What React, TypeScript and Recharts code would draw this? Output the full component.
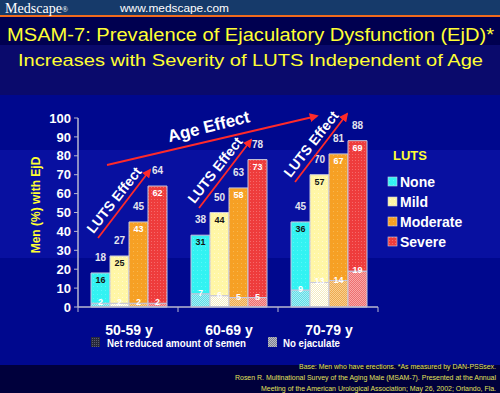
import React from 'react';
import { BarChart, Bar, XAxis, YAxis, LabelList, Legend } from 'recharts';

const ageGroups = ['50-59 y', '60-69 y', '70-79 y'];
const lutsLevels = ['None', 'Mild', 'Moderate', 'Severe'];
const lutsKeys = ['none', 'mild', 'moderate', 'severe'];

const totalNone = [18, 38, 45];
const totalMild = [27, 50, 70];
const totalModerate = [45, 63, 81];
const totalSevere = [64, 78, 88];

const reducedNone = [16, 31, 36];
const reducedMild = [25, 44, 57];
const reducedModerate = [43, 58, 67];
const reducedSevere = [62, 73, 69];

const noEjacNone = [2, 7, 9];
const noEjacMild = [2, 6, 13];
const noEjacModerate = [2, 5, 14];
const noEjacSevere = [2, 5, 19];

const yTicks = [0, 10, 20, 30, 40, 50, 60, 70, 80, 90, 100];

const FONT = '"Liberation Sans", Arial, Helvetica, sans-serif';

const totals = [totalNone, totalMild, totalModerate, totalSevere];
const reduced = [reducedNone, reducedMild, reducedModerate, reducedSevere];
const noEjac = [noEjacNone, noEjacMild, noEjacModerate, noEjacSevere];

const data = ageGroups.map((age, i) => {
  const row: Record<string, any> = { age };
  lutsKeys.forEach((k, j) => {
    row[k + 'Bot'] = noEjac[j][i];
    row[k + 'Top'] = reduced[j][i];
    row[k + 'Total'] = totals[j][i];
  });
  return row;
});

const innerColor: Record<string, string> = {
  none: '#141414',
  mild: '#141414',
  moderate: '#ffffff',
  severe: '#ffffff',
};

function geom(props: any) {
  const vb = props.viewBox || {};
  const x = Number(props.x ?? vb.x);
  const y = Number(props.y ?? vb.y);
  const width = Number(props.width ?? vb.width);
  const height = Number(props.height ?? vb.height);
  return { x, y, width, height };
}

const renderTotal = (props: any) => {
  const { x, y, width } = geom(props);
  return (
    <text x={x + width / 2} y={y - 12} textAnchor="middle" fill="#e4e4ee" fontSize={10} fontWeight="bold" fontFamily={FONT}>
      {props.value}
    </text>
  );
};

const makeInner = (k: string) => (props: any) => {
  const { x, y, width } = geom(props);
  return (
    <text x={x + width / 2} y={y + 10} textAnchor="middle" fill={innerColor[k]} fontSize={9} fontWeight="bold" fontFamily={FONT}>
      {props.value}
    </text>
  );
};

const renderBot = (props: any) => {
  const { x, y, width } = geom(props);
  return (
    <text x={x + width / 2} y={y + 2} textAnchor="middle" fill="#ffffff" fontSize={9} fontWeight="bold" fontFamily={FONT}>
      {props.value}
    </text>
  );
};

const XTick = (props: any) => {
  const { x, y, payload } = props;
  const off = payload && typeof payload.offset === 'number' && payload.offset > 0 ? payload.offset : 50;
  const last = payload && payload.index === ageGroups.length - 1;
  return (
    <g>
      <line x1={x - off} y1={y} x2={x - off} y2={y + 5} stroke="#b8b8d0" strokeWidth={1} />
      {last ? <line x1={x + off} y1={y} x2={x + off} y2={y + 5} stroke="#b8b8d0" strokeWidth={1} /> : null}
      <text x={x + 1} y={y + 28} textAnchor="middle" fill="#ffffff" fontSize={14} fontWeight="bold" fontFamily={FONT}>
        {payload.value}
      </text>
    </g>
  );
};

const LutsLegend = (props: any) => {
  const items = (props.payload || [])
    .filter((p: any) => p.type !== 'none' && lutsLevels.indexOf(p.value) >= 0)
    .slice()
    .sort((a: any, b: any) => lutsLevels.indexOf(a.value) - lutsLevels.indexOf(b.value));
  return (
    <svg width={110} height={110} style={{ overflow: 'visible' }}>
      <text x={5} y={17} fill="#ffff33" fontSize={13} fontWeight="bold" fontFamily={FONT}>LUTS</text>
      {items.map((it: any, i: number) => {
        const k = lutsKeys[lutsLevels.indexOf(it.value)] || 'none';
        return (
          <g key={i} transform={`translate(0, ${39 + i * 20})`}>
            <rect x={0} y={-5} width={9} height={9} fill={`url(#top-${k})`} stroke="#d0d0e0" strokeWidth={0.6} />
            <text x={12} y={5} fill="#ffffff" fontSize={14} fontWeight="bold" fontFamily={FONT}>{it.value}</text>
          </g>
        );
      })}
    </svg>
  );
};

const Patterns = () => (
  <svg width={0} height={0} style={{ position: 'absolute' }}>
    <defs>
      <pattern id="top-none" width={4} height={4} patternUnits="userSpaceOnUse">
        <rect width={4} height={4} fill="#33f2f2" />
        <rect x={1} y={2} width={1} height={1} fill="#5af8f8" />
      </pattern>
      <pattern id="top-mild" width={4} height={4} patternUnits="userSpaceOnUse">
        <rect width={4} height={4} fill="#fff6a6" />
        <rect x={2} y={1} width={1} height={1} fill="#fffbd0" />
      </pattern>
      <pattern id="top-moderate" width={4} height={4} patternUnits="userSpaceOnUse">
        <rect width={4} height={4} fill="#f6a024" />
        <rect x={1} y={3} width={1} height={1} fill="#f8b850" />
      </pattern>
      <pattern id="top-severe" width={3} height={3} patternUnits="userSpaceOnUse">
        <rect width={3} height={3} fill="#ee3c3c" />
        <rect x={1} y={1} width={1} height={1} fill="#f56a6a" />
      </pattern>
      <pattern id="bot-none" width={2} height={2} patternUnits="userSpaceOnUse">
        <rect width={2} height={2} fill="#62dbe6" />
        <rect width={1} height={1} fill="#a6f0f4" />
        <rect x={1} y={1} width={1} height={1} fill="#a6f0f4" />
      </pattern>
      <pattern id="bot-mild" width={2} height={2} patternUnits="userSpaceOnUse">
        <rect width={2} height={2} fill="#f4ecc0" />
        <rect width={1} height={1} fill="#ffffff" />
        <rect x={1} y={1} width={1} height={1} fill="#ffffff" />
      </pattern>
      <pattern id="bot-moderate" width={2} height={2} patternUnits="userSpaceOnUse">
        <rect width={2} height={2} fill="#eeaa50" />
        <rect width={1} height={1} fill="#f8d090" />
        <rect x={1} y={1} width={1} height={1} fill="#f8d090" />
      </pattern>
      <pattern id="bot-severe" width={2} height={2} patternUnits="userSpaceOnUse">
        <rect width={2} height={2} fill="#ee7070" />
        <rect width={1} height={1} fill="#f8a8a8" />
        <rect x={1} y={1} width={1} height={1} fill="#f8a8a8" />
      </pattern>
      <pattern id="sw-reduced" width={2} height={2} patternUnits="userSpaceOnUse">
        <rect width={2} height={2} fill="#26283c" />
        <rect width={1} height={1} fill="#5a5c70" />
      </pattern>
      <pattern id="sw-noejac" width={2} height={2} patternUnits="userSpaceOnUse">
        <rect width={2} height={2} fill="#7e8294" />
        <rect width={1} height={1} fill="#b8bac4" />
        <rect x={1} y={1} width={1} height={1} fill="#b8bac4" />
      </pattern>
      <marker id="arrowRed" viewBox="0 0 10 10" refX={8} refY={5} markerWidth={5} markerHeight={5} orient="auto">
        <path d="M0,0 L10,5 L0,10 z" fill="#ff2a2a" />
      </marker>
    </defs>
  </svg>
);

const Background = () => (
  <svg width={500} height={393} style={{ position: 'absolute', left: 0, top: 0 }}>
    <rect x={0} y={0} width={500} height={15} fill="#163a6a" />
    <rect x={0} y={15} width={500} height={2} fill="#f26b1d" />
    <rect x={0} y={17} width={500} height={28} fill="#000050" />
    <rect x={0} y={45} width={500} height={50} fill="#0a0a6c" />
    <rect x={0} y={95} width={500} height={55} fill="#00088e" />
    <rect x={0} y={150} width={500} height={108} fill="#0810a0" />
    <rect x={0} y={258} width={500} height={107} fill="#00088e" />
    <rect x={0} y={365} width={500} height={28} fill="#00003c" />
    <text x={5} y={13} fill="#ffffff" fontSize={14} fontFamily='"Liberation Serif", "Times New Roman", serif' textLength={57} lengthAdjust="spacingAndGlyphs">Medscape</text>
    <text x={62} y={12} fill="#ffffff" fontSize={8} fontFamily='"Liberation Serif", serif'>®</text>
    <text x={120} y={12} fill="#ffffff" fontSize={11.5} fontFamily={FONT} textLength={109} lengthAdjust="spacingAndGlyphs">www.medscape.com</text>
    <text x={7} y={41} fill="#ffff33" fontSize={18} fontFamily={FONT} textLength={487} lengthAdjust="spacingAndGlyphs">MSAM-7: Prevalence of Ejaculatory Dysfunction (EjD)*</text>
    <text x={18} y={66} fill="#ffff33" fontSize={17} fontFamily={FONT} textLength={465} lengthAdjust="spacingAndGlyphs">Increases with Severity of LUTS Independent of Age</text>
    <text transform="translate(40,205) rotate(-90)" textAnchor="middle" fill="#ffff33" fontSize={12} fontWeight="bold" fontFamily={FONT}>Men (%) with EjD</text>
  </svg>
);

const Overlay = () => (
  <svg width={500} height={393} style={{ position: 'absolute', left: 0, top: 0, pointerEvents: 'none' }}>
    <line x1={107} y1={165} x2={317} y2={116} stroke="#ff2a2a" strokeWidth={1.8} markerEnd="url(#arrowRed)" />
    <text transform="translate(210,132) rotate(-14)" textAnchor="middle" fill="#ffffff" fontSize={17} fontWeight="bold" fontFamily={FONT}>Age Effect</text>
    {[[0, 0], [101, -30], [197, -56]].map(([dx, dy], i) => (
      <g key={i} transform={`translate(${dx},${dy})`}>
        <line x1={98} y1={238} x2={150} y2={170} stroke="#ff2a2a" strokeWidth={1.8} markerEnd="url(#arrowRed)" />
        <text transform="translate(118,203) rotate(-52)" textAnchor="middle" fill="#ffffff" fontSize={14} fontWeight="bold" fontFamily={FONT}>LUTS Effect</text>
      </g>
    ))}
    <rect x={91} y={337} width={9} height={10} fill="url(#sw-reduced)" />
    <text x={107} y={347} fill="#ffffff" fontSize={10.5} fontWeight="bold" fontFamily={FONT} textLength={139} lengthAdjust="spacingAndGlyphs">Net reduced amount of semen</text>
    <rect x={268} y={337} width={9} height={10} fill="url(#sw-noejac)" />
    <text x={283} y={347} fill="#ffffff" fontSize={10.5} fontWeight="bold" fontFamily={FONT} textLength={57} lengthAdjust="spacingAndGlyphs">No ejaculate</text>
    <text x={496} y={369} textAnchor="end" fill="#e2e25a" fontSize={7} fontFamily={FONT} textLength={197} lengthAdjust="spacingAndGlyphs">Base: Men who have erections. *As measured by DAN-PSSsex.</text>
    <text x={496} y={380} textAnchor="end" fill="#e2e25a" fontSize={7} fontFamily={FONT} textLength={261} lengthAdjust="spacingAndGlyphs">Rosen R. Multinational Survey of the Aging Male (MSAM-7). Presented at the Annual</text>
    <text x={496} y={391} textAnchor="end" fill="#e2e25a" fontSize={7} fontFamily={FONT} textLength={235} lengthAdjust="spacingAndGlyphs">Meeting of the American Urological Association; May 26, 2002; Orlando, Fla.</text>
  </svg>
);

export default function App() {
  return (
    <div style={{ position: 'absolute', left: 0, top: 0, width: 500, height: 393, overflow: 'hidden', fontFamily: FONT }}>
      <Patterns />
      <Background />
      <div style={{ position: 'absolute', left: 0, top: 0 }}>
        <BarChart
          width={500}
          height={393}
          data={data}
          margin={{ top: 118, right: 122, bottom: 56, left: 38 }}
          barCategoryGap="13%"
          barGap={0}
        >
          <XAxis
            dataKey="age"
            height={30}
            axisLine={{ stroke: '#b8b8d0', strokeWidth: 1.5 }}
            tickLine={false}
            tickSize={0}
            tickMargin={0}
            tick={<XTick />}
            interval={0}
          />
          <YAxis
            type="number"
            domain={[0, 100]}
            ticks={yTicks}
            interval={0}
            width={40}
            axisLine={{ stroke: '#b8b8d0', strokeWidth: 1.5 }}
            tickLine={{ stroke: '#b8b8d0' }}
            tickSize={4}
            tickMargin={3}
            tick={{ fill: '#ffffff', fontSize: 13, fontWeight: 'bold', fontFamily: FONT }}
          />
          <Legend
            layout="horizontal"
            verticalAlign="middle"
            align="center"
            itemSorter={null as any}
            content={<LutsLegend />}
            wrapperStyle={{ position: 'absolute', left: 388, top: 143, width: 110, height: 110 }}
          />
          {lutsKeys.flatMap((k, i) => [
            <Bar
              key={k + 'Bot'}
              dataKey={k + 'Bot'}
              stackId={k}
              fill={`url(#bot-${k})`}
              stroke="#c8c8dc"
              strokeWidth={1}
              legendType="none"
              isAnimationActive={false}
            >
              <LabelList dataKey={k + 'Bot'} content={renderBot} />
            </Bar>,
            <Bar
              key={k + 'Top'}
              dataKey={k + 'Top'}
              name={lutsLevels[i]}
              stackId={k}
              fill={`url(#top-${k})`}
              stroke="#c8c8dc"
              strokeWidth={1}
              isAnimationActive={false}
            >
              <LabelList dataKey={k + 'Top'} content={makeInner(k)} />
              <LabelList dataKey={k + 'Total'} content={renderTotal} />
            </Bar>,
          ])}
        </BarChart>
      </div>
      <Overlay />
    </div>
  );
}
